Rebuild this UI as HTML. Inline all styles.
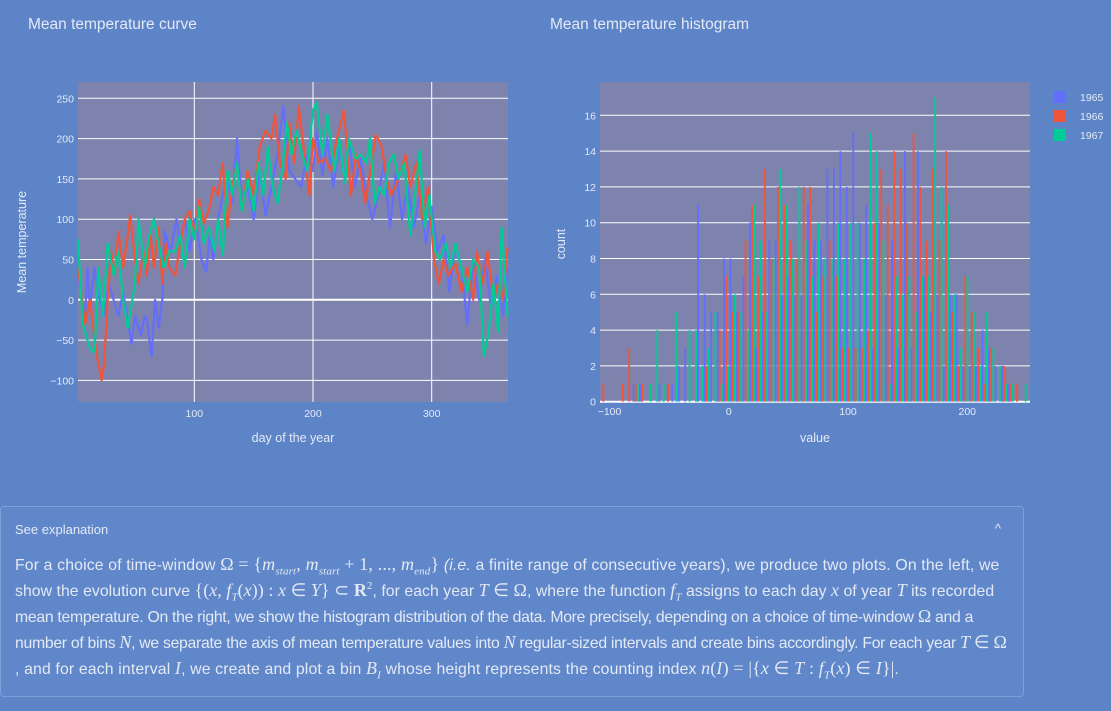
<!DOCTYPE html>
<html><head><meta charset="utf-8">
<style>
html,body{margin:0;padding:0;}
body{width:1111px;height:711px;background:#5e84c8;font-family:"Liberation Sans",sans-serif;color:#e3e9f5;position:relative;overflow:hidden;}
.title{position:absolute;top:16px;font-size:15.5px;color:#e3e9f5;}
svg text{font-family:"Liberation Sans",sans-serif;}
#expl{position:absolute;left:0;top:506px;width:1024px;height:191px;border:1px solid #7d9fd8;border-radius:4px;background:#6087c9;box-sizing:border-box;}
#expl .hdr{position:absolute;left:14px;top:15px;font-size:13px;}
#expl .car{position:absolute;right:22px;top:14px;font-size:13px;}
#expl .body{position:absolute;left:14px;top:46px;width:1000px;font-size:15.8px;}
#expl .ln{height:26px;line-height:26px;white-space:nowrap;overflow:visible;}
.m{font-family:"Liberation Serif",serif;font-style:italic;font-size:18px;line-height:0;}
.r{font-family:"Liberation Serif",serif;font-size:18px;line-height:0;}
sub,sup{font-size:11px;line-height:0;}
</style></head><body>
<div class="title" style="left:28px">Mean temperature curve</div>
<div class="title" style="left:550px">Mean temperature histogram</div>
<svg id="chart" width="1111" height="500" style="position:absolute;left:0;top:0"></svg>
<div id="expl">
<div class="hdr">See explanation</div>
<div class="car">^</div>
<div class="body">
<div class="ln" style="letter-spacing:0.15px">For a choice of time-window <span class="r">Ω = {</span><span class="m">m<sub>start</sub>, m<sub>start</sub></span><span class="r"> + 1, ..., </span><span class="m">m<sub>end</sub></span><span class="r">}</span> <i>(i.e.</i> a finite range of consecutive years), we produce two plots. On the left, we</div>
<div class="ln" style="letter-spacing:0.05px">show the evolution curve <span class="r">{(</span><span class="m">x, f<sub>T</sub></span><span class="r">(</span><span class="m">x</span><span class="r">)) : </span><span class="m">x</span><span class="r"> ∈ </span><span class="m">Y</span><span class="r">} ⊂ <b>R</b><sup>2</sup></span>, for each year <span class="m">T</span><span class="r"> ∈ Ω</span>, where the function <span class="m">f<sub>T</sub></span> assigns to each day <span class="m">x</span> of year <span class="m">T</span> its recorded</div>
<div class="ln" style="letter-spacing:-0.3px">mean temperature. On the right, we show the histogram distribution of the data. More precisely, depending on a choice of time-window <span class="r">Ω</span> and a</div>
<div class="ln" style="letter-spacing:-0.3px">number of bins <span class="m">N</span>, we separate the axis of mean temperature values into <span class="m">N</span> regular-sized intervals and create bins accordingly. For each year <span class="m">T</span><span class="r"> ∈ Ω</span></div>
<div class="ln" style="letter-spacing:0.15px">, and for each interval <span class="m">I</span>, we create and plot a bin <span class="m">B<sub>I</sub></span> whose height represents the counting index <span class="m">n</span><span class="r">(</span><span class="m">I</span><span class="r">) = |{</span><span class="m">x</span><span class="r"> ∈ </span><span class="m">T</span><span class="r"> : </span><span class="m">f<sub>T</sub></span><span class="r">(</span><span class="m">x</span><span class="r">) ∈ </span><span class="m">I</span><span class="r">}|</span>.</div>
</div>
</div>
<script>
// ---- line chart data ----
const days1965 = [2,8,10,12,16,20,24,28,32,36,40,47,50,55,58,60,64,67,70,73,75,80,85,88,92,96,100,103,106,110,113,116,120,124,128,132,136,140,145,150,155,160,165,170,175,180,185,190,195,200,203,208,212,217,222,227,230,235,240,245,250,255,260,265,270,275,280,285,290,295,300,305,310,315,320,325,330,335,340,345,350,355,360,364];
const temps1965 = [30,-20,40,-10,40,0,-20,20,0,-20,10,-55,-20,-45,-20,-25,-70,0,-35,0,85,60,100,70,100,60,100,80,50,35,80,50,100,130,150,120,200,120,140,100,160,105,140,180,240,160,150,140,180,160,210,155,200,140,190,150,200,140,175,130,100,130,170,90,160,100,140,90,130,70,115,60,80,10,70,40,-30,50,0,50,-10,30,-20,40];
const days1966 = [2,8,12,18,22,24,27,30,33,36,40,43,46,50,53,57,60,63,66,70,73,76,79,84,87,92,96,100,104,108,112,116,120,124,128,132,136,140,145,150,155,160,165,168,172,177,180,184,188,192,197,200,205,210,215,220,226,232,236,240,244,253,258,262,266,272,278,282,287,292,297,302,306,310,314,320,325,330,335,338,343,347,352,356,360,364];
const temps1966 = [40,-30,0,-70,-100,-80,0,60,30,85,40,70,105,50,20,60,30,80,40,90,20,70,40,30,60,100,110,80,125,95,110,140,130,170,90,140,170,110,160,130,190,210,200,230,170,150,220,170,240,190,130,200,170,175,160,200,235,130,180,160,120,205,190,150,130,150,180,140,170,100,140,50,20,50,30,45,10,40,0,60,20,60,0,20,0,65];
const days1967 = [2,6,12,16,19,23,27,32,36,40,44,50,53,58,62,66,70,74,79,84,88,92,96,100,104,108,112,117,120,124,128,132,136,140,145,150,154,158,162,166,170,174,178,182,186,190,195,200,203,208,212,218,222,227,230,236,240,245,248,252,256,260,264,268,272,277,282,286,290,294,298,303,307,312,316,320,325,330,335,340,344,348,352,356,359,362,364];
const temps1967 = [75,-30,-60,-65,40,-20,70,30,60,0,-35,20,100,40,80,100,70,40,60,60,80,40,100,75,115,70,90,60,100,55,160,130,170,110,150,110,170,130,190,140,120,160,220,180,210,185,160,235,245,180,230,160,200,145,200,175,180,170,200,120,140,130,170,180,150,170,80,130,185,90,130,60,50,70,40,70,40,10,50,40,-70,-40,20,-40,90,20,-20];
const curveXTicks = [100,200,300];
const curveYTicks = [-100,-50,0,50,100,150,200,250];
// ---- histogram data ----
const histStart = -108;
const histBinWidth = 5.42;
const counts1965 = [0,0,0,0,0,1,1,0,0,1,0,1,2,3,0,11,6,5,5,8,8,5,7,10,3,5,9,9,6,7,6,6,11,9,9,13,13,14,12,15,10,11,3,10,6,9,3,14,3,14,7,5,6,2,6,6,2,2,2,4,3,2,2,1,0,0];
const counts1966 = [1,0,0,1,3,1,1,0,0,0,1,0,0,0,0,0,2,0,4,7,5,5,9,11,7,13,8,12,11,9,8,12,12,5,7,9,7,3,3,3,3,4,10,13,11,14,13,10,15,12,9,13,9,14,5,2,7,5,3,1,3,0,2,1,1,0];
const counts1967 = [0,0,0,0,0,1,0,1,4,1,0,5,0,4,4,2,3,5,1,2,6,5,4,11,9,5,8,13,11,8,12,9,7,10,8,8,10,8,10,10,8,15,14,9,1,7,6,7,5,7,7,17,12,11,6,3,7,5,2,5,3,2,1,1,0,1];
const histXTicks = [-100,0,100,200];
const histYTicks = [0,2,4,6,8,10,12,14,16];
const years = ['1965','1966','1967'];

const NS='http://www.w3.org/2000/svg';
const svg=document.getElementById('chart');
function mk(tag,attrs,parent){const e=document.createElementNS(NS,tag);for(const k in attrs)e.setAttribute(k,attrs[k]);(parent||svg).appendChild(e);return e;}
const colors=['#636efa','#ef553b','#00cc96'];
const tickCol='#e3e9f5';

// ---- curve chart ----
const L={x0:78,x1:508,y0:82,y1:402};
const cx=d=>L.x0+(d-2)*(L.x1-L.x0)/(364.3-2);
const cy=v=>299.8-v*0.806;
const gC=mk('g',{});


mk('rect',{x:L.x0,y:L.y0,width:L.x1-L.x0,height:L.y1-L.y0,fill:'#7e83ad'},gC);
curveYTicks.forEach(t=>{
  const ln=mk('line',{x1:L.x0,x2:L.x1,y1:cy(t),y2:cy(t),stroke:'#fff','stroke-width':t===0?2:1},gC);
  
  
  const tx=mk('text',{x:L.x0-4,y:cy(t)+4,'text-anchor':'end','font-size':10.5,fill:tickCol},gC);
  
  
  tx.textContent=t<0?'\u2212'+(-t):String(t);
});
curveXTicks.forEach(t=>{
  const ln=mk('line',{x1:cx(t),x2:cx(t),y1:L.y0,y2:L.y1,stroke:'#fff','stroke-width':1},gC);
  
  
  const tx=mk('text',{x:cx(t),y:L.y1+15,'text-anchor':'middle','font-size':10.5,fill:tickCol},gC);
  
  
  tx.textContent=String(t);
});
const series=[[days1965,temps1965],[days1966,temps1966],[days1967,temps1967]];
series.forEach((s,i)=>{
  const pts=s[0].map((d,j)=>cx(d).toFixed(1)+','+cy(s[1][j]).toFixed(1)).join(' ');
  const pl=mk('polyline',{points:pts,fill:'none',stroke:colors[i],'stroke-width':2.2,'stroke-linejoin':'round'},gC);
  
  
});
let t1=mk('text',{x:293,y:442,'text-anchor':'middle','font-size':12.5,fill:tickCol});


t1.textContent='day of the year';
let t2=mk('text',{x:26,y:242,'text-anchor':'middle','font-size':12.5,fill:tickCol,transform:'rotate(-90 26 242)'});


t2.textContent='Mean temperature';

// ---- histogram ----
const H={x0:600,x1:1030,y0:82,y1:402};
const hx=v=>H.x0+(v-(-108))*(H.x1-H.x0)/(252.6+108);
const hy=c=>401.7-c*17.9;
const gH=mk('g',{});


mk('rect',{x:H.x0,y:H.y0,width:H.x1-H.x0,height:H.y1-H.y0,fill:'#7e83ad'},gH);
histYTicks.forEach(t=>{
  const ln=mk('line',{x1:H.x0,x2:H.x1,y1:hy(t),y2:hy(t),stroke:'#fff','stroke-width':t===0?2:1},gH);
  
  
  const tx=mk('text',{x:H.x0-4,y:hy(t)+4,'text-anchor':'end','font-size':10.5,fill:tickCol},gH);
  
  
  tx.textContent=String(t);
});
histXTicks.forEach(t=>{
  const tx=mk('text',{x:hx(t),y:H.y1+13,'text-anchor':'middle','font-size':10.5,fill:tickCol},gH);
  
  
  tx.textContent=t<0?'\u2212'+(-t):String(t);
});
[counts1965,counts1966,counts1967].forEach((arr,i)=>{
  arr.forEach((c,k)=>{
    if(!c)return;
    const b0=hx(histStart+k*histBinWidth), b1=hx(histStart+(k+1)*histBinWidth);
    const w=(b1-b0)/3;
    const r=mk('rect',{x:(b0+w*i+0.3).toFixed(2),y:hy(c).toFixed(1),width:(w*0.85).toFixed(2),height:(hy(0)-hy(c)).toFixed(1),fill:colors[i]},gH);
    
    
  });
});
let t3=mk('text',{x:815,y:442,'text-anchor':'middle','font-size':12.5,fill:tickCol});


t3.textContent='value';
let t4=mk('text',{x:565,y:244,'text-anchor':'middle','font-size':12.5,fill:tickCol,transform:'rotate(-90 565 244)'});


t4.textContent='count';

// ---- legend ----
years.forEach((y,i)=>{
  const g=mk('g',{});
  
  
  mk('rect',{x:1054,y:91+i*19,width:12,height:12,fill:colors[i]},g);
  const tx=mk('text',{x:1080,y:101+i*19,'font-size':10.5,fill:tickCol},g);
  tx.textContent=y;
});
</script>
</body></html>
